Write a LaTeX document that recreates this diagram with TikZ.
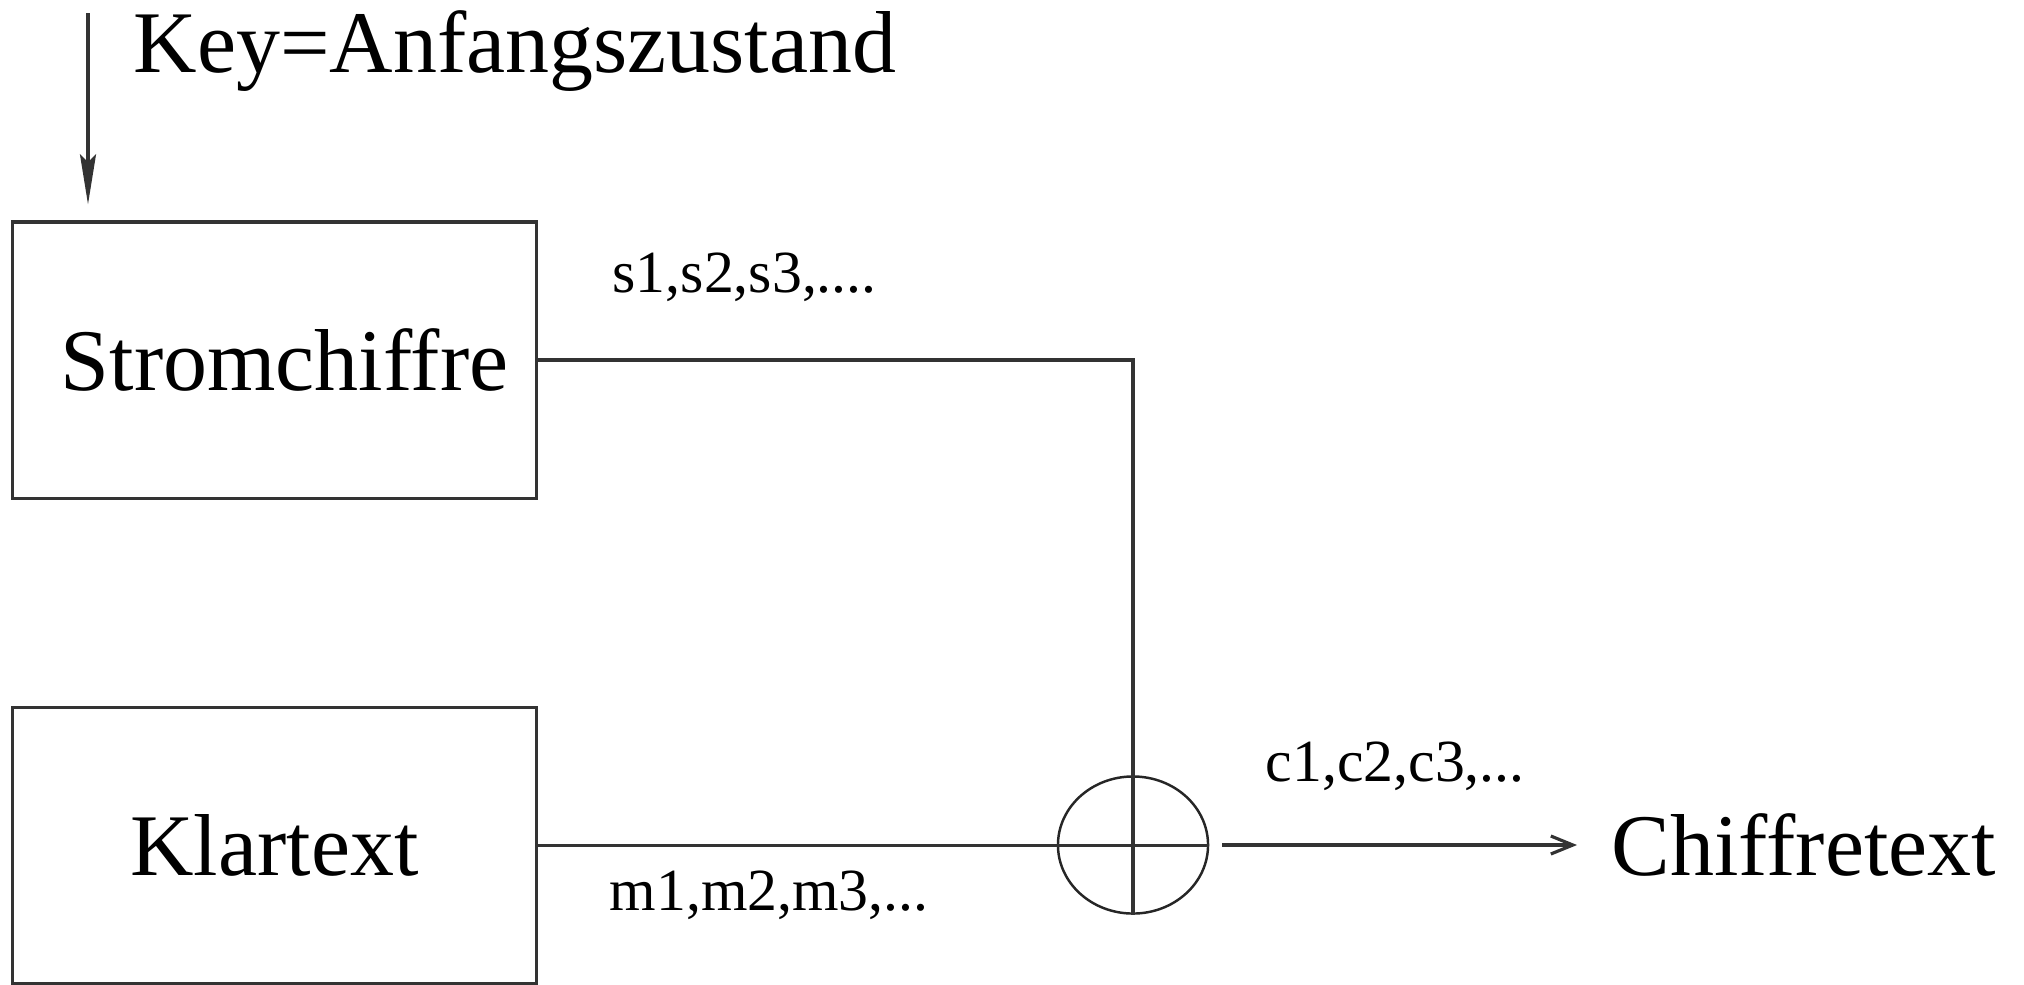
\documentclass[tikz,border=0pt]{standalone}
\usepackage{fontspec}
\setmainfont{Liberation Serif}
\usepackage{tikz}
\usetikzlibrary{positioning,calc,arrows.meta,shapes.geometric}

\begin{document}
\begin{tikzpicture}[x=0.01cm,y=-0.01cm,
  kasten/.style={draw=black!80,line width=0.9pt,minimum width=5.23cm,minimum height=2.76cm,inner sep=0pt,font=\fontsize{25}{30}\selectfont},
  gross/.style={inner sep=0pt,font=\fontsize{25}{30}\selectfont},
  klein/.style={inner sep=0pt,font=\fontsize{17}{20}\selectfont},
  leitung/.style={draw=black!80,line width=0.9pt}]
  \useasboundingbox (0,0) rectangle (2024,984);
  \node[kasten] (strom) at (274.5,360) {\hspace*{0.2cm}Stromchiffre};
  \node[kasten] (klar) at (274.5,845.5) {Klartext};
  \node[draw=black!85,line width=0.7pt,ellipse,minimum width=1.5cm,minimum height=1.37cm,inner sep=0pt] (xor) at (1133,845) {};
  \node[gross,anchor=west,inner xsep=0.34cm] (ciph) at (1577,845) {Chiffretext};
  \coordinate (keyin) at (88,13);
  \node[gross,anchor=base west] (key) at (133,72) {Key=Anfangszustand};
  \node[klein,anchor=base west] (slbl) at (612,292) {s1,s2,s3,....};
  \node[klein,anchor=base west] (mlbl) at (609,910) {m1,m2,m3,...};
  \node[klein,anchor=base west] (clbl) at (1265,781) {c1,c2,c3,...};
  \draw[leitung,-{Stealth[length=5mm,width=1.6mm,inset=0.8mm]},shorten >=0.16cm] (keyin) -- (keyin |- strom.north);
  \draw[leitung] (strom.east) -| (xor.south);
  \draw[leitung] (klar.east) -- (klar.east -| xor.east);
  \draw[leitung,-{Straight Barb[length=2.2mm,width=1.8mm]},shorten <=0.13cm] (xor.east) -- (ciph.west);
\end{tikzpicture}
\end{document}
